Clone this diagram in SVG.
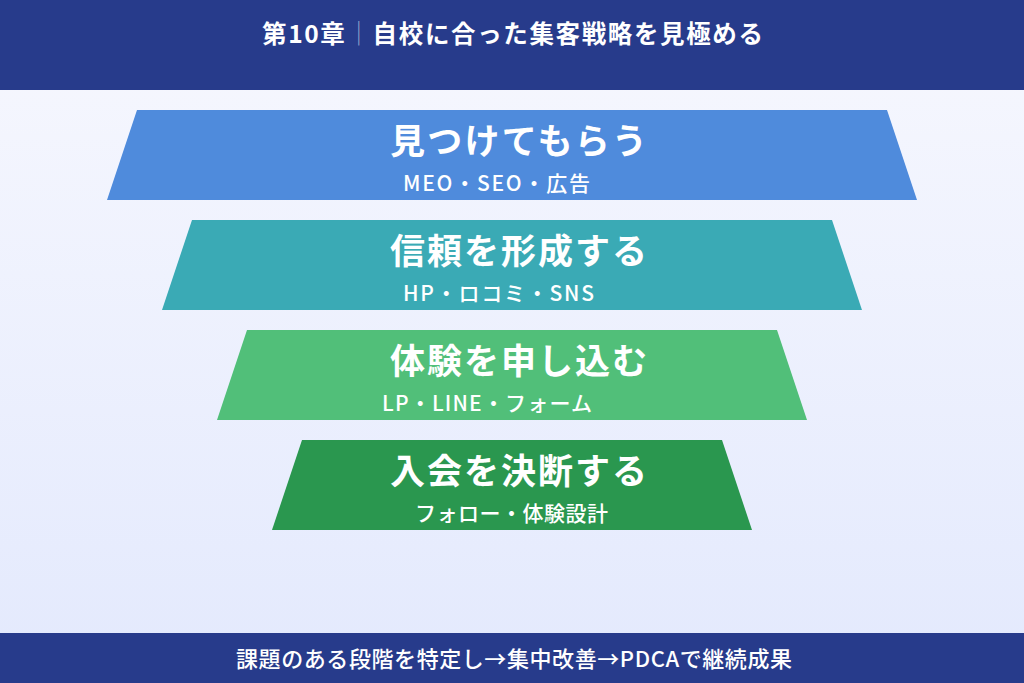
<svg xmlns="http://www.w3.org/2000/svg" width="1024" height="683" viewBox="0 0 1024 683">
  <defs>
    <linearGradient id="bg" x1="0" y1="0" x2="0" y2="1">
      <stop offset="0" stop-color="#f7f8fe"/>
      <stop offset="1" stop-color="#e3e9fd"/>
    </linearGradient>
    <style>
      .band { fill: #273b8b; }
      .t { font-family: "Noto Sans CJK JP", "Noto Sans", sans-serif; fill: #ffffff; }
      .head { font-size: 24.5px; font-weight: 700; }
      .title { font-size: 35px; font-weight: 700; }
      .sub { font-size: 21px; font-weight: 500; }
      .foot { font-size: 22px; font-weight: 500; }
      .bar { fill: #9aa5cf; font-weight: 300; }
    </style>
  </defs>

  <rect x="0" y="0" width="1024" height="683" fill="url(#bg)"/>

  <g id="header">
    <rect class="band" x="0" y="0" width="1024" height="90"/>
    <text class="t head" x="262" y="43" textLength="501" lengthAdjust="spacing">第10章<tspan class="bar">｜</tspan>自校に合った集客戦略を見極める</text>
  </g>

  <g id="stage1">
    <polygon points="137,110 887,110 917,200 107,200" fill="#4f8bdc"/>
    <text class="t title" x="390" y="154" textLength="257" lengthAdjust="spacing">見つけてもらう</text>
    <text class="t sub" x="403" y="191" textLength="187" lengthAdjust="spacing">MEO・SEO・広告</text>
  </g>

  <g id="stage2">
    <polygon points="192,220 832,220 862,310 162,310" fill="#3aaab5"/>
    <text class="t title" x="390" y="264" textLength="257" lengthAdjust="spacing">信頼を形成する</text>
    <text class="t sub" x="403" y="301" textLength="191" lengthAdjust="spacing">HP・ロコミ・SNS</text>
  </g>

  <g id="stage3">
    <polygon points="247,330 777,330 807,420 217,420" fill="#51bf79"/>
    <text class="t title" x="390" y="374" textLength="257" lengthAdjust="spacing">体験を申し込む</text>
    <text class="t sub" x="382" y="411" textLength="210" lengthAdjust="spacing">LP・LINE・フォーム</text>
  </g>

  <g id="stage4">
    <polygon points="302,440 722,440 752,530 272,530" fill="#2a974f"/>
    <text class="t title" x="390" y="484" textLength="257" lengthAdjust="spacing">入会を決断する</text>
    <text class="t sub" x="415" y="521" textLength="193" lengthAdjust="spacing">フォロー・体験設計</text>
  </g>

  <g id="footer">
    <rect class="band" x="0" y="633" width="1024" height="50"/>
    <text class="t foot" x="236" y="667" textLength="556" lengthAdjust="spacing">課題のある段階を特定し→集中改善→PDCAで継続成果</text>
  </g>
</svg>
